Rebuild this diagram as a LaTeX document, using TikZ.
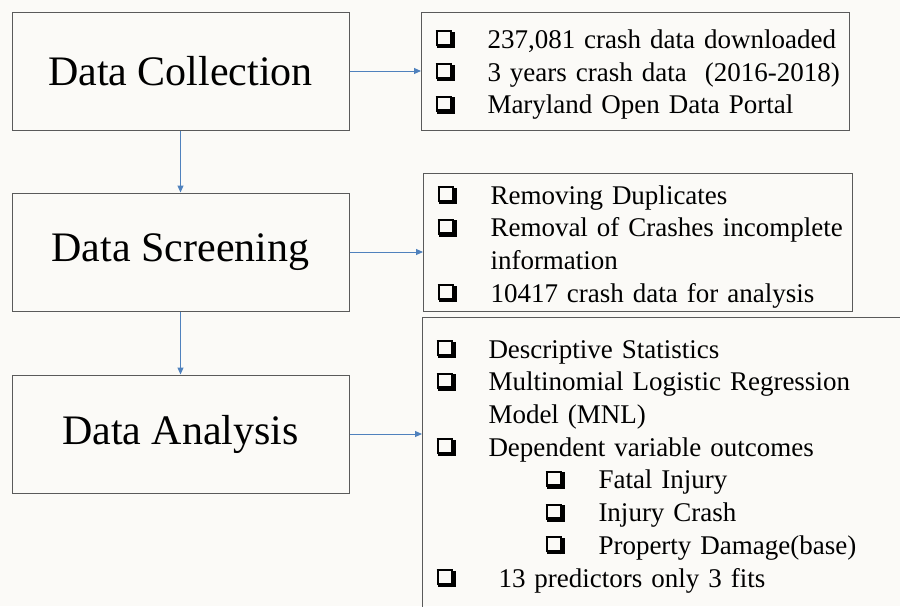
\documentclass[tikz,border=0pt]{standalone}
\usepackage{fontspec}
\setmainfont{Liberation Serif}
\usetikzlibrary{positioning, arrows.meta}
\definecolor{bgcol}{RGB}{251,250,247}
\definecolor{framecol}{RGB}{90,90,90}
\definecolor{arrowcol}{RGB}{79,129,189}
% shadowed check box, drawn with rules
\newcommand{\chk}{%
	\rlap{\rule[16pt]{16pt}{2pt}}%
	\rlap{\rule[2pt]{2pt}{16pt}}%
	\rlap{\hspace{1.5pt}\rule{17.5pt}{4.5pt}}%
	\rlap{\hspace{14.5pt}\rule{4.5pt}{16.5pt}}%
}
\newcommand{\itm}[2][52pt]{\mbox{\makebox[#1][l]{\chk}#2}}

\begin{document}
\begin{tikzpicture}[x=1pt, y=-1pt,
		stage/.style={
			draw=framecol,
			line width=1pt,
			minimum width=337pt,
			minimum height=118pt,
			font=\fontsize{42}{48}\selectfont
		},
		list/.style={
			draw=framecol,
			line width=1pt,
			anchor=north west,
			align=left,
			inner xsep=14pt,
			inner ysep=0pt,
			font=\fontsize{27}{32.7}\selectfont
		},
		flow/.style={draw=arrowcol, line width=1pt, -{Triangle[length=7pt,width=6pt]}}]
		\clip (0,0) rectangle (900,606);
		\fill[bgcol] (0,0) rectangle (900,606);
		% stages
		\node[stage] (coll) at (180.5,71) {Data Collection};
		\node[stage, below=62pt of coll] (screen) {Data Screening};
		\node[stage, below=63pt of screen] (ana) {Data Analysis};
		% lists
		\node[list, text width=400pt, minimum height=118pt] (collList) at (421,12) {%
			\rule{0pt}{25pt}\itm{237,081 crash data downloaded}\\%
			\itm{3 years crash data\ \ (2016-2018)}\\%
			\itm{Maryland Open Data Portal}%
		};
		\node[list, text width=401pt, minimum height=138pt] (screenList) at (423,173) {%
			\rule{0pt}{27pt}\itm[53pt]{Removing Duplicates}\\%
			\itm[53pt]{Removal of Crashes incomplete}\\%
			\hspace*{53pt}information\\%
			\itm[53pt]{10417 crash data for analysis}%
		};
		\node[list, text width=472pt, minimum height=298pt] (anaList) at (422,317) {%
			\itm{Descriptive Statistics}\\%
			\itm{Multinomial Logistic Regression}\\%
			\hspace*{52pt}Model (MNL)\\%
			\itm{Dependent variable outcomes}\\%
			\hspace*{109pt}\itm[53pt]{Fatal Injury}\\%
			\hspace*{109pt}\itm[53pt]{Injury Crash}\\%
			\hspace*{109pt}\itm[53pt]{Property Damage(base)}\\%
			\itm[62pt]{13 predictors only 3 fits}%
		};
		\draw[flow] (coll.south) -- (screen.north);
		\draw[flow] (screen.south) -- (ana.north);
		\draw[flow] (coll.east) -- (coll.east -| collList.west);
		\draw[flow] (screen.east) -- (screen.east -| screenList.west);
		\draw[flow] (ana.east) -- (ana.east -| anaList.west);
	\end{tikzpicture}
\end{document}
